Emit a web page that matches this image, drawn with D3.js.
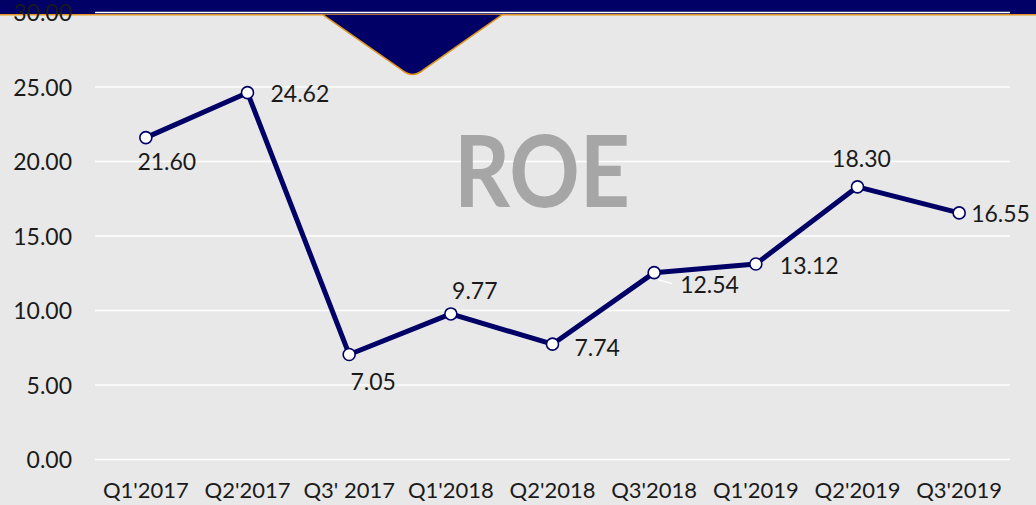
<!DOCTYPE html>
<html>
<head>
<meta charset="utf-8">
<script src="https://cdn.jsdelivr.net/npm/d3@7"></script>
<style>
  html, body { margin: 0; padding: 0; background: #e8e8e8; }
  svg { display: block; }
</style>
</head>
<body>
<svg id="chart" width="1036" height="505"></svg>
<script>
const categories = ["Q1'2017", "Q2'2017", "Q3' 2017", "Q1'2018", "Q2'2018", "Q3'2018", "Q1'2019", "Q2'2019", "Q3'2019"];
const roeValues = [21.60, 24.62, 7.05, 9.77, 7.74, 12.54, 13.12, 18.30, 16.55];
const yTicks = [0, 5, 10, 15, 20, 25, 30];
// label placement relative to each point: [dx, dy, anchor]
const labelPos = [[21, 24, "middle"], [23, 1, "start"], [24, 27, "middle"], [24, -23, "middle"], [22, 4, "start"],
                  [26, 12, "start"], [24, 2, "start"], [4, -28, "middle"], [12, 1, "start"]];

const W = 1036, H = 505;
const navy = "#000066", orange = "#e0931f";
const FONT = "Lato, 'DejaVu Sans', sans-serif";
const svg = d3.select("#chart");

svg.append("rect").attr("width", W).attr("height", H).attr("fill", "#e8e8e8");

const x = d3.scaleBand().domain(categories).range([95, 1010]).padding(0);
const y = d3.scaleLinear().domain([0, 30]).range([459.5, 12.5]);

// top band
svg.append("rect").attr("x", 0).attr("y", 0).attr("width", W).attr("height", 14.5).attr("fill", navy);
svg.append("line").attr("x1", 0).attr("x2", W).attr("y1", 14.8).attr("y2", 14.8)
  .attr("stroke", orange).attr("stroke-width", 1.6);

// banner triangle with rounded bottom
const bx1 = 323, bx2 = 502, by = 14.8, bcx = 412.5, bby = 77.5;
const slopeDx = bcx - bx1, slopeDy = bby - by;
const len = Math.hypot(slopeDx, slopeDy);
const ux = slopeDx / len, uy = slopeDy / len;
const p1x = bcx - ux * 14, p1y = bby - uy * 14;
const p2x = bcx + ux * 14, p2y = bby - uy * 14;
const bannerPath = `M${bx1},${by} L${p1x},${p1y} Q${bcx},${bby + 2} ${p2x},${p2y} L${bx2},${by}`;
svg.append("path").attr("d", bannerPath + " Z").attr("fill", navy).attr("stroke", "none");
svg.append("path").attr("d", bannerPath).attr("fill", "none").attr("stroke", orange).attr("stroke-width", 1.6);

// gridlines
svg.append("g").selectAll("line").data(yTicks).join("line")
  .attr("x1", 95).attr("x2", 1010)
  .attr("y1", d => y(d)).attr("y2", d => y(d))
  .attr("stroke", "#ffffff").attr("stroke-width", 1.6);

// title
svg.append("text").attr("x", 542).attr("y", 207).attr("text-anchor", "middle")
  .attr("font-family", FONT).attr("font-weight", 700)
  .attr("font-size", 99).attr("fill", "#a6a6a6")
  .attr("textLength", 176).attr("lengthAdjust", "spacingAndGlyphs")
  .text("ROE");

// y axis labels
const yAxis = d3.axisLeft(y).tickValues(yTicks).tickFormat(d3.format(".2f")).tickSize(0).tickPadding(0);
const yg = svg.append("g").attr("transform", "translate(72,0)").call(yAxis);
yg.select(".domain").remove();
yg.selectAll("text").attr("font-family", FONT).attr("font-size", 23)
  .attr("fill", "#1a1a1a").attr("dy", "0.36em");

// x axis labels
const xAxis = d3.axisBottom(x).tickSize(0).tickPadding(0);
const xg = svg.append("g").attr("transform", "translate(0,482)").call(xAxis);
xg.select(".domain").remove();
xg.selectAll("text").attr("font-family", FONT).attr("font-size", 22)
  .attr("fill", "#1a1a1a").attr("dy", "0.71em");

const pts = categories.map((c, i) => ({c, v: roeValues[i], px: x(c) + x.bandwidth() / 2, py: y(roeValues[i])}));

// leader line for 12.54
const lp = pts[5];
svg.append("line").attr("x1", lp.px + 4).attr("y1", lp.py + 7).attr("x2", lp.px + 18).attr("y2", lp.py + 11)
  .attr("stroke", "#ffffff").attr("stroke-width", 1.2);

// line
svg.append("path").datum(pts)
  .attr("d", d3.line().x(d => d.px).y(d => d.py))
  .attr("fill", "none").attr("stroke", navy).attr("stroke-width", 5).attr("stroke-linejoin", "round");

// markers
svg.append("g").selectAll("circle").data(pts).join("circle")
  .attr("cx", d => d.px).attr("cy", d => d.py).attr("r", 6)
  .attr("fill", "#ffffff").attr("stroke", navy).attr("stroke-width", 1.6);

// data labels
svg.append("g").selectAll("text").data(pts).join("text")
  .attr("x", (d, i) => d.px + labelPos[i][0])
  .attr("y", (d, i) => d.py + labelPos[i][1])
  .attr("text-anchor", (d, i) => labelPos[i][2])
  .attr("dy", "0.36em")
  .attr("font-family", FONT).attr("font-size", 23).attr("fill", "#1a1a1a")
  .text(d => d3.format(".2f")(d.v));
</script>
</body>
</html>
